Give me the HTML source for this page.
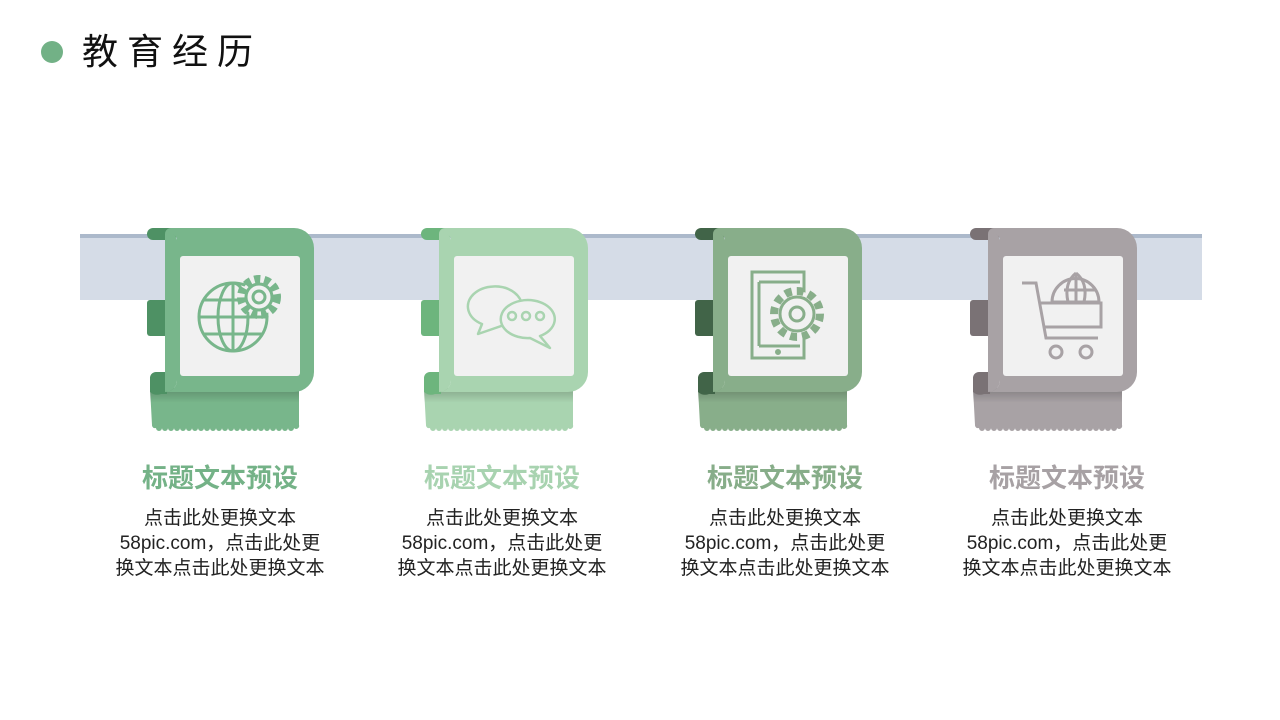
<!DOCTYPE html>
<html><head><meta charset="utf-8"><style>
body{margin:0;width:1280px;height:720px;background:#fff;overflow:hidden;position:relative;font-family:"Liberation Sans","Noto Sans CJK SC",sans-serif}
.t{position:absolute;left:82px;top:28px;font-size:36px;letter-spacing:9px;color:#111;line-height:48px}
.dot{position:absolute;left:41px;top:41px;width:22px;height:22px;border-radius:50%;background:#72b186}
.blk{position:absolute;top:460px;width:260px;text-align:center}
.blk h3{margin:0;font-size:26px;font-weight:bold;line-height:36px}
.blk p{margin:10px 0 0;font-size:19px;line-height:25px;color:#222}
</style></head><body>
<div class="dot"></div><div class="t">教育经历</div>
<svg width="1280" height="720" style="position:absolute;left:0;top:0">
<defs>
<linearGradient id="sh" x1="0" y1="0" x2="0" y2="1"><stop offset="0" stop-color="#000" stop-opacity=".22"/><stop offset=".35" stop-color="#000" stop-opacity="0"/></linearGradient>
<g id="card">
<rect x="0" y="0" width="30" height="12" rx="6" fill="var(--d)"/>
<rect x="0" y="72" width="22" height="36" rx="3" fill="var(--d)"/>
<path d="M3 160 H152 V197 a3 3 0 0 1 -5 3 a3 3 0 0 1 -6 0 a3 3 0 0 1 -6 0 a3 3 0 0 1 -6 0 a3 3 0 0 1 -6 0 a3 3 0 0 1 -6 0 a3 3 0 0 1 -6 0 a3 3 0 0 1 -6 0 a3 3 0 0 1 -6 0 a3 3 0 0 1 -6 0 a3 3 0 0 1 -6 0 a3 3 0 0 1 -6 0 a3 3 0 0 1 -6 0 a3 3 0 0 1 -6 0 a3 3 0 0 1 -6 0 a3 3 0 0 1 -6 0 a3 3 0 0 1 -6 0 a3 3 0 0 1 -6 0 a3 3 0 0 1 -6 0 a3 3 0 0 1 -6 0 a3 3 0 0 1 -6 0 a3 3 0 0 1 -6 0 a3 3 0 0 1 -6 0 a3 3 0 0 1 -6 0 a3 3 0 0 1 -4 -3 Z" fill="var(--c)"/>
<rect x="3" y="160" width="149" height="42" fill="url(#sh)"/>
<path d="M3 164 V150 a6 6 0 0 1 6 -6 H20 V166 H14 a11 11 0 0 1 -11 -2Z" fill="var(--d)"/>
<path d="M18 6 a6 6 0 0 1 6 -6 H147 a20 20 0 0 1 20 20 V144 a20 20 0 0 1 -20 20 H18 a12 12 0 0 0 12 -12 V10 a10 10 0 0 0 -12 -4Z" fill="var(--c)"/>
<path d="M18 6 a8 8 0 0 1 12 6 V152 a12 12 0 0 1 -12 12 Z" fill="var(--c)"/>
<rect x="33" y="28" width="120" height="120" rx="3" fill="#f1f1f1"/>
</g>
</defs>
<rect x="80" y="234" width="1122" height="66" fill="#d5dce7"/>
<rect x="80" y="234" width="1122" height="4" fill="#acb9cb"/>
<use href="#card" x="147" y="228" style="--c:#78b68b;--d:#4e9164"/>
<use href="#card" x="421" y="228" style="--c:#a9d4b0;--d:#6db57d"/>
<use href="#card" x="695" y="228" style="--c:#88ae8a;--d:#416448"/>
<use href="#card" x="970" y="228" style="--c:#a8a2a5;--d:#7a7275"/>
<!-- globe gear -->
<g fill="none" stroke="#78b68b" stroke-width="3">
<circle cx="233" cy="317" r="34"/><ellipse cx="233" cy="317" rx="15" ry="34"/><line x1="233" y1="283" x2="233" y2="351"/><line x1="199" y1="317" x2="267" y2="317"/><path d="M204 300 H262 M204 334 H262"/>
<circle cx="259" cy="297" r="18" fill="#f1f1f1" stroke-dasharray="6 4" stroke-width="8"/><circle cx="259" cy="297" r="13" fill="#f1f1f1"/><circle cx="259" cy="297" r="6"/>
</g>
<!-- chat -->
<g fill="none" stroke="#a9d4b0" stroke-width="2.5" stroke-linejoin="round">
<path d="M482 324 A27 20 0 1 1 510 323 L478 334 Z" fill="#f1f1f1"/>
<path d="M540 336 A27 19 0 1 0 530 338 L550 348 Z" fill="#f1f1f1"/>
<circle cx="512" cy="316" r="4"/><circle cx="526" cy="316" r="4"/><circle cx="540" cy="316" r="4"/>
</g>
<!-- phone gear -->
<g fill="none" stroke="#88ae8a" stroke-width="3">
<rect x="752" y="272" width="52" height="86"/><path d="M759 282 H800 M759 346 H800 M759 282 V346"/><circle cx="778" cy="352" r="1.5" fill="#88ae8a"/>
<circle cx="797" cy="314" r="23" fill="#f1f1f1" stroke-dasharray="7 5" stroke-width="8"/><circle cx="797" cy="314" r="17" fill="#f1f1f1"/><circle cx="797" cy="314" r="7"/>
</g>
<!-- cart -->
<g fill="none" stroke="#a8a2a5" stroke-width="3">
<path d="M1022 283 H1036 L1046 338 H1098"/><path d="M1041 303 H1101 V327 H1045"/>
<path d="M1052 302 a19 19 0 0 1 47 0z"/><path d="M1076 273 V302 M1064 290 H1096 M1076 273 c-10 8 -10 20 -8 29 M1076 273 c10 8 10 20 8 29"/>
<circle cx="1056" cy="352" r="6"/><circle cx="1086" cy="352" r="6"/>
</g>
</svg>
<div class="blk" style="left:90px"><h3 style="color:#74b287">标题文本预设</h3><p>点击此处更换文本<br>58pic.com，点击此处更<br>换文本点击此处更换文本</p></div>
<div class="blk" style="left:372px"><h3 style="color:#a8d3b0">标题文本预设</h3><p>点击此处更换文本<br>58pic.com，点击此处更<br>换文本点击此处更换文本</p></div>
<div class="blk" style="left:655px"><h3 style="color:#87ad89">标题文本预设</h3><p>点击此处更换文本<br>58pic.com，点击此处更<br>换文本点击此处更换文本</p></div>
<div class="blk" style="left:937px"><h3 style="color:#a7a1a4">标题文本预设</h3><p>点击此处更换文本<br>58pic.com，点击此处更<br>换文本点击此处更换文本</p></div>
</body></html>
